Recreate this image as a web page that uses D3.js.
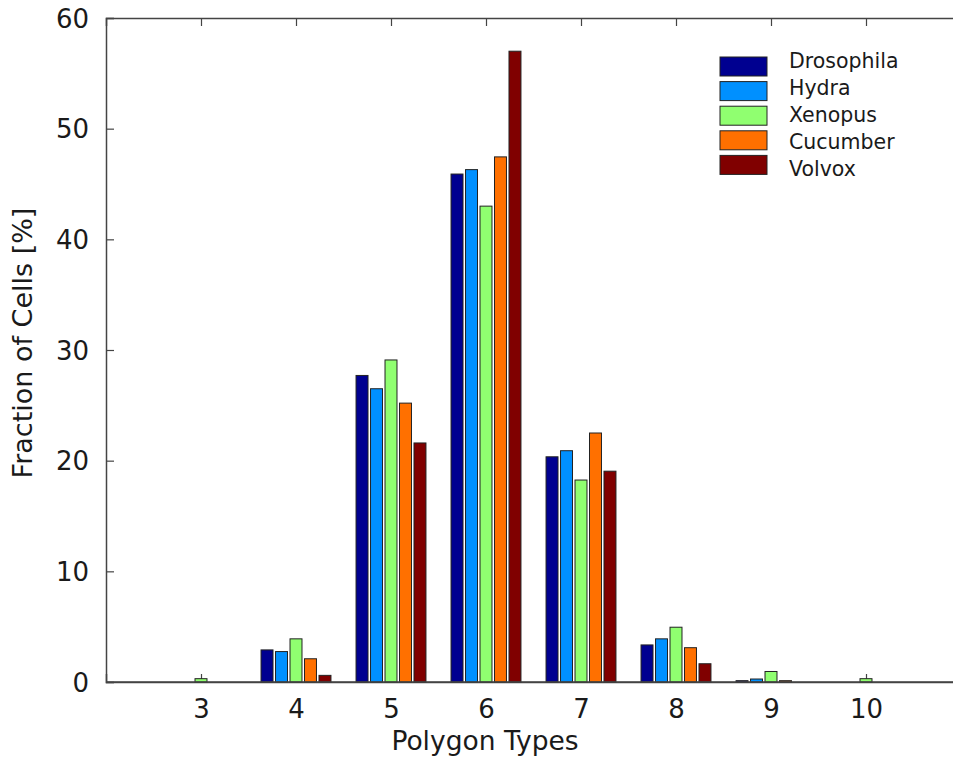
<!DOCTYPE html>
<html>
<head>
<meta charset="utf-8">
<script src="https://cdn.jsdelivr.net/npm/d3@7"></script>
<style>
    body { margin: 0; background: #ffffff; }
    text { font-family: "DejaVu Sans", sans-serif; fill: #1a1a1a; }
</style>
</head>
<body>
<script>
// 数据
const polygonTypes = [3, 4, 5, 6, 7, 8, 9, 10];
const seriesNames = ['Drosophila', 'Hydra', 'Xenopus', 'Cucumber', 'Volvox'];
const seriesColors = ['#000090', '#0090ff', '#90ff70', '#ff7000', '#800000'];
const drosophila = [0, 2.9, 27.7, 45.9, 20.35, 3.35, 0.12, 0];
const hydra = [0, 2.75, 26.5, 46.3, 20.9, 3.9, 0.27, 0];
const xenopus = [0.3, 3.9, 29.1, 43.0, 18.25, 4.95, 0.95, 0.3];
const cucumber = [0, 2.1, 25.2, 47.45, 22.5, 3.1, 0.12, 0];
const volvox = [0, 0.6, 21.6, 57.0, 19.05, 1.65, 0, 0];
const yTicks = [0, 10, 20, 30, 40, 50, 60];

const seriesValues = [drosophila, hydra, xenopus, cucumber, volvox];

const width = 953, height = 759;
const margin = {left: 106, top: 18, bottom: 77};

const svg = d3.select('body')
    .append('svg')
    .attr('width', width)
    .attr('height', height);

// 比例尺 (右边界超出画布)
const x = d3.scaleLinear().domain([2, 11]).range([margin.left, 961]);
const y = d3.scaleLinear().domain([0, 60]).range([height - margin.bottom, margin.top]);

const barPitch = 0.1525, barWidth = 0.126;

// 坐标轴 (先画，柱子盖住刻度)
const axisColor = '#444444';
const xAxis = svg.append('g')
    .attr('transform', `translate(0,${y(0)})`)
    .call(d3.axisBottom(x).tickValues(polygonTypes).tickSize(-8).tickPadding(18).tickFormat(d3.format('d')));
const xTop = svg.append('g')
    .attr('transform', `translate(0,${y(60)})`)
    .call(d3.axisTop(x).tickValues(polygonTypes).tickSize(-8).tickFormat(''));
const yAxis = svg.append('g')
    .attr('transform', `translate(${x(2)},0)`)
    .call(d3.axisLeft(y).tickValues(yTicks).tickSize(-8).tickPadding(17));

[xAxis, xTop, yAxis].forEach(a => {
    a.select('.domain').attr('stroke', axisColor).attr('stroke-width', 1.5);
    a.selectAll('.tick line').attr('stroke', axisColor).attr('stroke-width', 1.2);
    a.selectAll('text').style('font-size', '26px').attr('fill', '#1a1a1a');
});
yAxis.selectAll('.tick text').attr('dy', '0.35em');

// 柱子
const bars = [];
seriesValues.forEach((vals, s) => {
    vals.forEach((v, i) => {
        if (v > 0) bars.push({s, type: polygonTypes[i], v});
    });
});

svg.append('g')
    .selectAll('rect')
    .data(bars)
    .enter()
    .append('rect')
    .attr('x', d => x(d.type + (d.s - 2) * barPitch - barWidth / 2))
    .attr('width', x(2 + barWidth) - x(2))
    .attr('y', d => y(d.v))
    .attr('height', d => y(0) - y(d.v))
    .attr('fill', d => seriesColors[d.s])
    .attr('stroke', '#222222')
    .attr('stroke-width', 1);

// 底轴线重画在柱子之上
svg.append('line')
    .attr('x1', x(2)).attr('x2', width)
    .attr('y1', y(0)).attr('y2', y(0))
    .attr('stroke', axisColor)
    .attr('stroke-width', 1.5);

// 坐标轴标题
svg.append('text')
    .attr('x', 485)
    .attr('y', 750)
    .attr('text-anchor', 'middle')
    .style('font-size', '26.5px')
    .text('Polygon Types');
svg.append('text')
    .attr('transform', 'translate(32,343) rotate(-90)')
    .attr('text-anchor', 'middle')
    .style('font-size', '27px')
    .text('Fraction of Cells [%]');

// 图例
const legend = svg.append('g');
seriesNames.forEach((name, i) => {
    legend.append('rect')
        .attr('x', 720)
        .attr('y', 57 + i * 24.6)
        .attr('width', 47)
        .attr('height', 19)
        .attr('fill', seriesColors[i])
        .attr('stroke', '#222222')
        .attr('stroke-width', 1);
    legend.append('text')
        .attr('x', 789)
        .attr('y', 68 + i * 27.1)
        .style('font-size', '20.5px')
        .text(name);
});
</script>
</body>
</html>
